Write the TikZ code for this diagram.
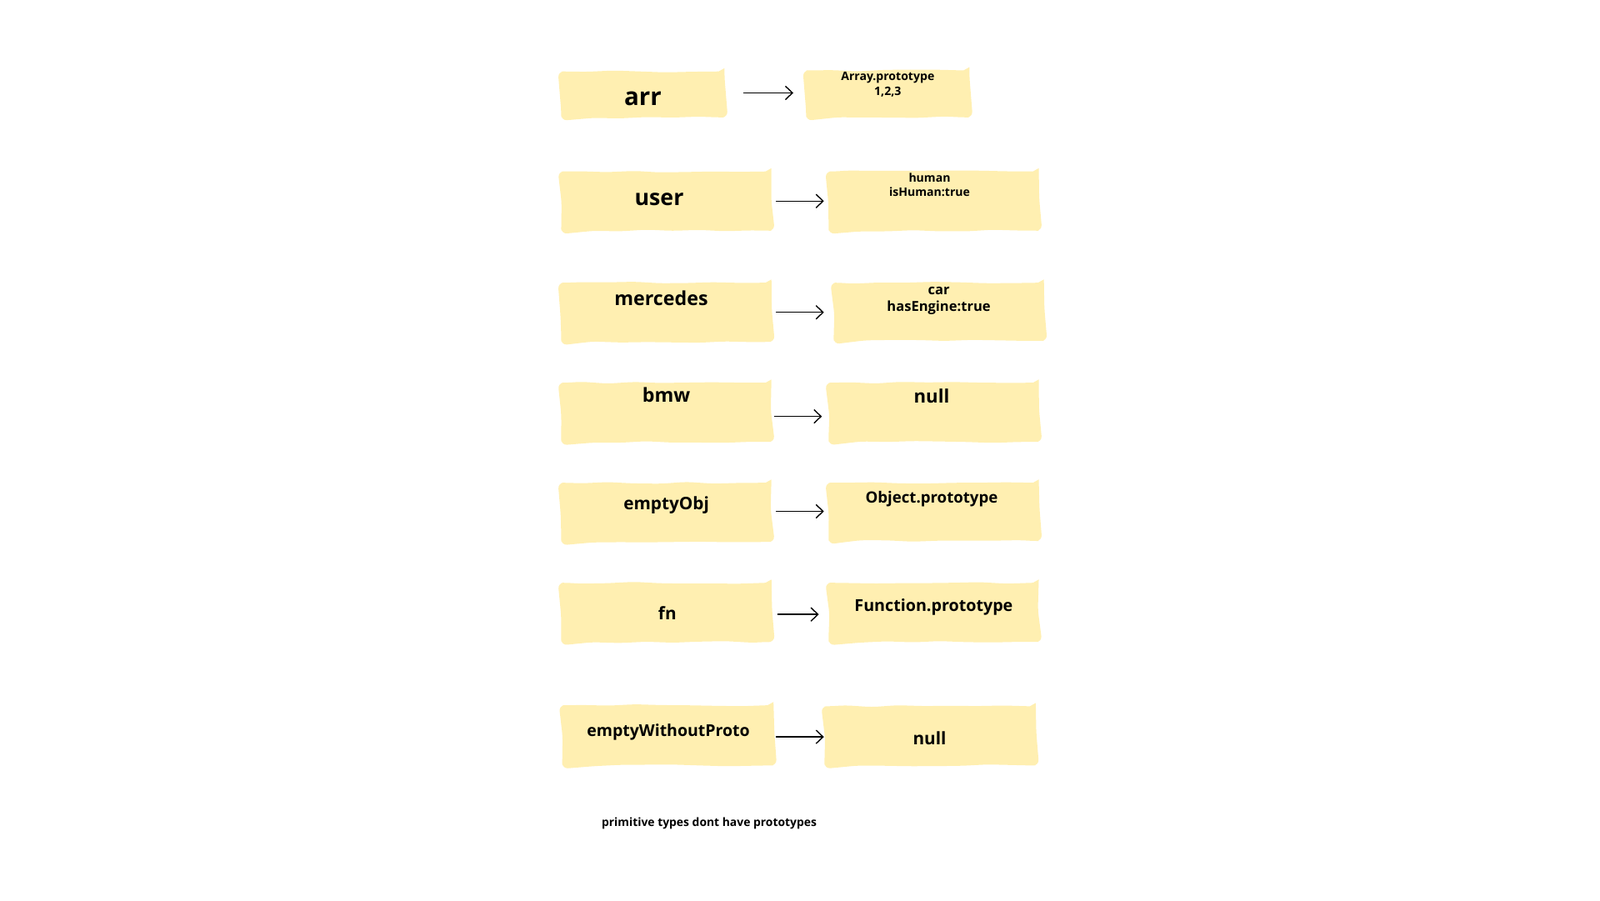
\documentclass[tikz,border=0pt]{standalone}
\usepackage{fontspec}
\setmainfont{Open Sans}
\usetikzlibrary{arrows.meta,decorations.pathmorphing}

\newlength\pxu
\setlength\pxu{0.012245cm}
\definecolor{note}{RGB}{255,239,177}
\newcommand\fs[2]{\fontsize{#1}{#2}\selectfont\bfseries}

\tikzset{
  sticky/.style={fill=note, inner sep=0pt, decorate,
    decoration={random steps,segment length=9pt,amplitude=0.35pt},
    rounded corners=2pt},
  ptr/.style={-{Straight Barb[length=2.4pt,width=4.6pt]}, line width=0.4pt},
  word/.style={inner sep=0pt, align=center},
}

\begin{document}
\begin{tikzpicture}[x=\pxu, y=-\pxu]
   \useasboundingbox (0,0) rectangle (1568,882);

   % left column
   \node[sticky, minimum width=160\pxu, minimum height=45\pxu] (arr) at (630,92.5) {};
   \node[sticky, minimum width=206\pxu, minimum height=58\pxu] (user) at (653,197) {};
   \node[sticky, minimum width=206\pxu, minimum height=58\pxu] (mercedes) at (653,306) {};
   \node[sticky, minimum width=206\pxu, minimum height=58\pxu] (bmw) at (653,404) {};
   \node[sticky, minimum width=206\pxu, minimum height=58\pxu] (emptyobj) at (653,502) {};
   \node[sticky, minimum width=206\pxu, minimum height=58\pxu] (fn) at (653,600) {};
   \node[sticky, minimum width=207\pxu, minimum height=59\pxu] (noproto) at (654.5,720.5) {};

   % right column
   \node[sticky, minimum width=160\pxu, minimum height=46\pxu] (arrproto) at (870,92) {};
   \node[sticky, minimum width=206\pxu, minimum height=58\pxu] (human) at (915,197) {};
   \node[sticky, minimum width=206\pxu, minimum height=57\pxu] (car) at (920,305.5) {};
   \node[sticky, minimum width=206\pxu, minimum height=58\pxu] (bmwnull) at (915,404) {};
   \node[sticky, minimum width=206\pxu, minimum height=57\pxu] (objproto) at (915,501.5) {};
   \node[sticky, minimum width=206\pxu, minimum height=58\pxu] (fnproto) at (915,600) {};
   \node[sticky, minimum width=207\pxu, minimum height=58\pxu] (nullproto) at (911.5,721) {};

   % labels
   \node[word, font=\fs{8.4}{9}] (arrtxt) at (630,97) {arr};
   \node[word, font=\fs{4}{5.2}] (arrprototxt) at (870,83) {Array.prototype\\1,2,3};
   \node[word, font=\fs{7.6}{8}] (usertxt) at (646,195) {user};
   \node[word, font=\fs{4}{4.9}] (humantxt) at (911,181) {human\\isHuman:true};
   \node[word, font=\fs{6.6}{7}] (mercedestxt) at (648,292) {mercedes};
   \node[word, font=\fs{4.7}{5.7}] (cartxt) at (920,294.5) {car\\hasEngine:true};
   \node[word, font=\fs{6.6}{7}] (bmwtxt) at (653,387) {bmw};
   \node[word, font=\fs{6.3}{7}] (bmwnulltxt) at (913,388) {null};
   \node[word, font=\fs{5.9}{6}] (emptyobjtxt) at (653,495) {emptyObj};
   \node[word, font=\fs{5.3}{6}] (objprototxt) at (913,489) {Object.prototype};
   \node[word, font=\fs{5.9}{6}] (fntxt) at (654,601) {fn};
   \node[word, font=\fs{5.6}{6}] (fnprototxt) at (915,595) {Function.prototype};
   \node[word, font=\fs{5.55}{6}] (noprototxt) at (655,717) {emptyWithoutProto};
   \node[word, font=\fs{5.9}{6}] (nullprototxt) at (911,723) {null};
   \node[word, font=\fs{3.95}{4}] (primnote) at (695,807) {primitive types dont have prototypes};

   \foreach \a/\b/\s/\e/\dy in {arr/arrproto/18/12/1.5, user/human/4/4/0,
       mercedes/car/4/9/0, bmw/bmwnull/2/6/-4, emptyobj/objproto/4/4/1,
       fn/fnproto/5/9/-2, noproto/nullproto/2/0/-1.5} {
     \draw[ptr, shorten <=\s\pxu, shorten >=\e\pxu]
       ([yshift=\dy\pxu]\a.east) -- ([yshift=\dy\pxu]\a.east -| \b.west);
   }
\end{tikzpicture}
\end{document}
